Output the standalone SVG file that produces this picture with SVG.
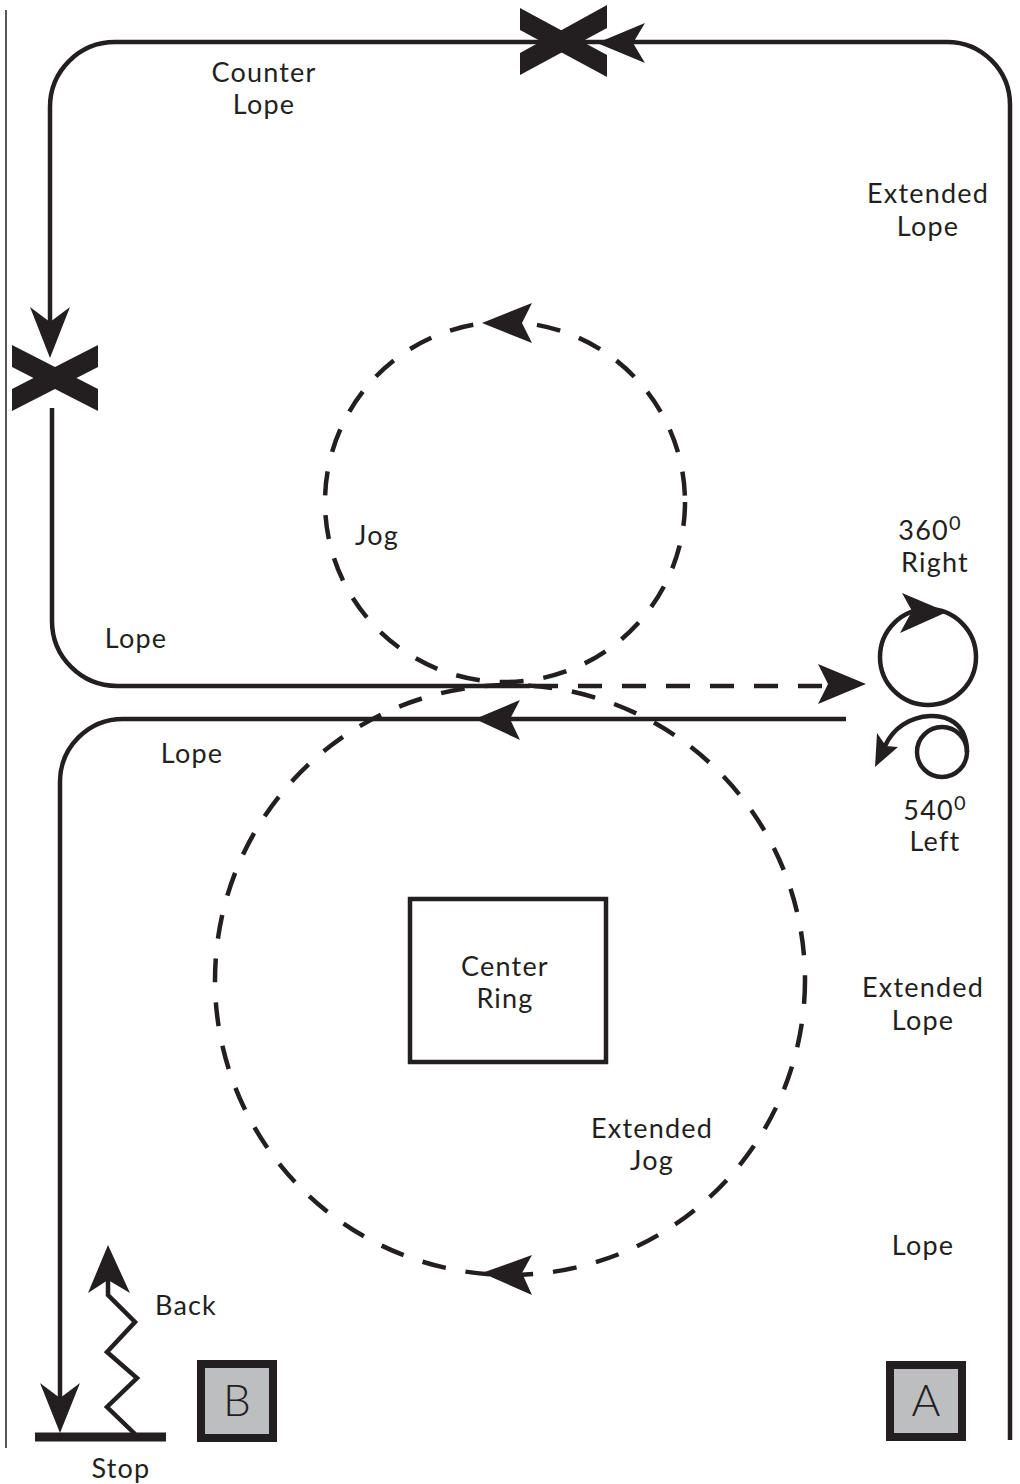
<svg xmlns="http://www.w3.org/2000/svg" width="1020" height="1484" viewBox="0 0 1020 1484">
<style>
.ln{fill:none;stroke:#231f20;stroke-width:4.5}
.ds{fill:none;stroke:#231f20;stroke-width:4.5;stroke-dasharray:24 20}
.ah{fill:#231f20;stroke:none}
.t{font-family:Lato,"Noto Sans",sans-serif;font-size:27px;letter-spacing:1.2px;fill:#231f20;text-anchor:middle}
.box{fill:#bcbec0;stroke:#231f20;stroke-width:8}
.bl{font-family:Lato,"Noto Sans",sans-serif;font-size:44px;fill:#231f20;text-anchor:middle;font-weight:300}
</style>
<rect width="1020" height="1484" fill="#fff"/>
<line x1="6" y1="10" x2="6" y2="1448" stroke="#231f20" stroke-width="1.5"/>
<g id="connectors">
<path class="ln" d="M1010,1440 V105 A63,63 0 0 0 947,42 H633"/>
<path class="ln" d="M607,42 H115 A65,65 0 0 0 50,107 V325"/>
<path class="ln" d="M52,408 V621 A65,65 0 0 0 117,686 H530"/>
<path class="ds" d="M534,686 H830"/>
<path class="ln" d="M846,719 H123 A63,63 0 0 0 60,782 V1400"/>
<path class="ln" d="M35,1437 H166" style="stroke-width:9"/>
<path class="ln" d="M135,1434 L107,1407 L137,1378 L107,1352 L135,1322 L108,1295 V1275"/>
<circle class="ds" cx="505" cy="502" r="180"/>
<circle class="ds" cx="510" cy="980" r="295"/>
<circle class="ln" cx="928" cy="657" r="48"/>
<circle class="ln" cx="942" cy="752" r="25"/>
<path class="ln" d="M967,752 C967,722 945,715 930,716 C910,717 893,728 885,746"/>
<polygon class="ah" points="597,43 645,23 633,43 645,63"/>
<polygon class="ah" points="50,358 30,307 50,322 70,307"/>
<polygon class="ah" points="866,684 818,664 828,684 818,704"/>
<polygon class="ah" points="475,719 520,700 510,719 520,740"/>
<polygon class="ah" points="482,323 532,303 522,323 532,343"/>
<polygon class="ah" points="482,1273 532,1255 522,1273 532,1295"/>
<polygon class="ah" points="60,1433 40,1383 60,1398 80,1383"/>
<polygon class="ah" points="108,1245 88,1293 108,1280 130,1293"/>
<polygon class="ah" points="947,612 902,593 912,611 900,633"/>
<polygon class="ah" points="875,767 877,733 886,746 898,747"/>
</g>
<g id="x-top">
<polygon class="ah" points="520,8 520,30 607,77 607,55"/>
<polygon class="ah" points="520,53 520,75 607,28 607,5"/>
</g>
<g id="x-left">
<polygon class="ah" points="12,345 12,367 98,411 98,389"/>
<polygon class="ah" points="12,389 12,411 98,367 98,345"/>
</g>
<g id="center-ring">
<rect x="410" y="899" width="196" height="163" fill="none" stroke="#231f20" stroke-width="4.5"/>
<text class="t" x="505" y="976">Center</text>
<text class="t" x="505" y="1008">Ring</text>
</g>
<g id="box-b">
<rect class="box" x="201" y="1364" width="72" height="74"/>
<text class="bl" x="237" y="1416">B</text>
</g>
<g id="box-a">
<rect class="box" x="890" y="1365" width="72" height="72"/>
<text class="bl" x="926" y="1416">A</text>
</g>
<g id="labels">
<text class="t" x="264" y="82">Counter</text>
<text class="t" x="264" y="114">Lope</text>
<text class="t" x="928" y="203">Extended</text>
<text class="t" x="928" y="236">Lope</text>
<text class="t" x="377" y="545">Jog</text>
<text class="t" x="930" y="540">360<tspan dy="-10" font-size="20">0</tspan></text>
<text class="t" x="935" y="572">Right</text>
<text class="t" x="136" y="648">Lope</text>
<text class="t" x="192" y="763">Lope</text>
<text class="t" x="935" y="820">540<tspan dy="-10" font-size="20">0</tspan></text>
<text class="t" x="935" y="851">Left</text>
<text class="t" x="923" y="997">Extended</text>
<text class="t" x="923" y="1030">Lope</text>
<text class="t" x="652" y="1138">Extended</text>
<text class="t" x="652" y="1170">Jog</text>
<text class="t" x="923" y="1255">Lope</text>
<text class="t" x="186" y="1315">Back</text>
<text class="t" x="121" y="1478">Stop</text>
</g>
</svg>
